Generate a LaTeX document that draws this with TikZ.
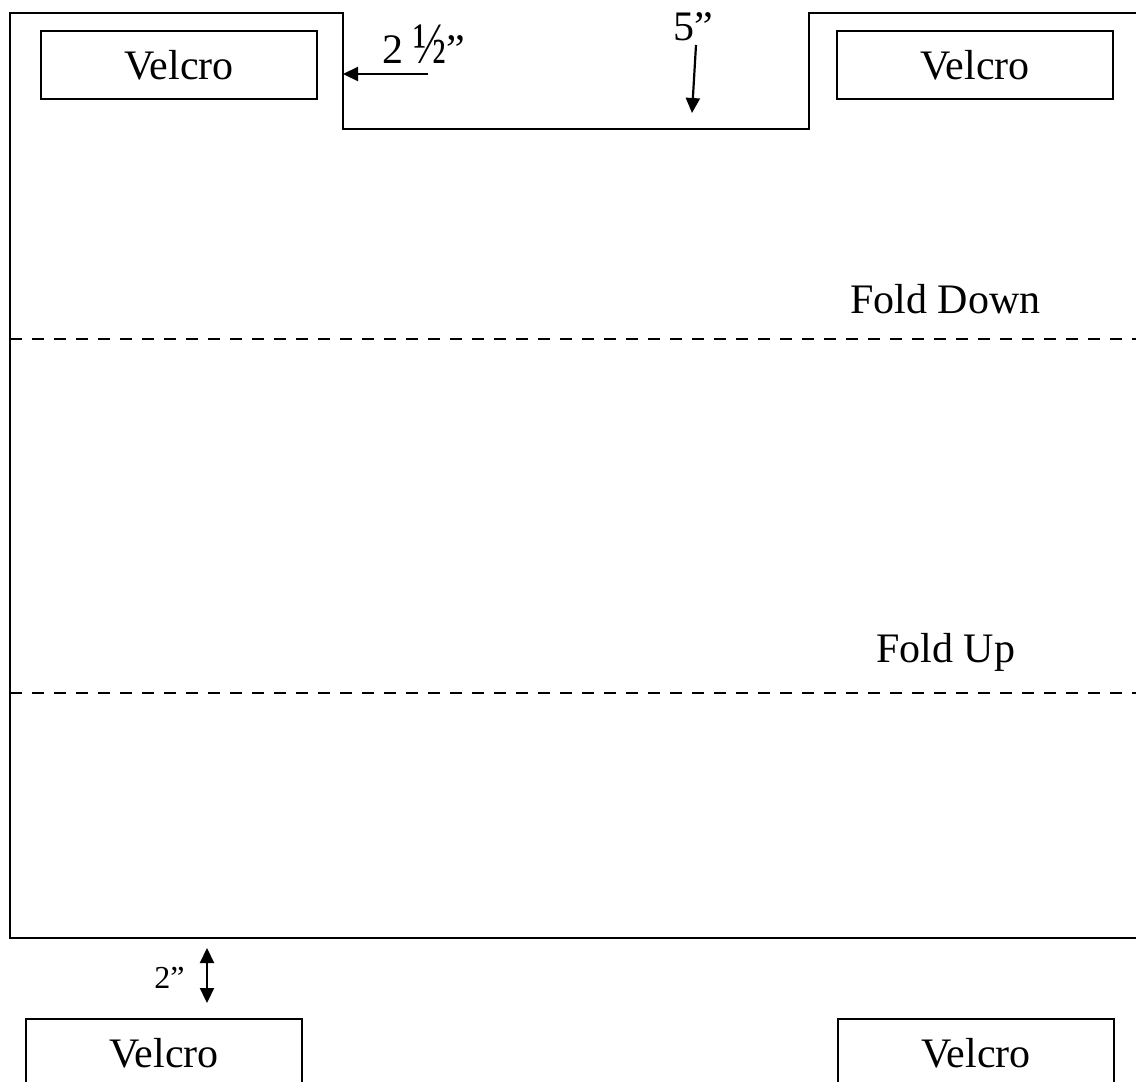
\documentclass[tikz,border=0pt]{standalone}
\usepackage{graphicx}
\usepackage{fontspec}
\setmainfont{Liberation Serif}
\usetikzlibrary{arrows.meta,positioning}

\newcommand{\halfmark}{\scalebox{1.05}[1.4]{½}}

\begin{document}
\begin{tikzpicture}[x=0.5pt,y=-0.5pt,
    patch/.style={draw, line width=0.9pt, minimum width=138pt, minimum height=34pt, inner sep=0pt, font=\fontsize{21}{25}\selectfont},
    outline/.style={line width=1.45pt},
    fold/.style={line width=1.35pt, dash pattern=on 6pt off 5pt},
    lbl/.style={anchor=base west, inner sep=0pt, font=\fontsize{21}{25}\selectfont},
    dim/.style={line width=1.1pt},
    >={Triangle[length=7.5pt,width=7pt]}]
    \clip (0,0) rectangle (1136,1082);
    % outline with the notch on top
    \coordinate (tr) at (1136,13);
    \coordinate (nrTop) at (809,13);
    \coordinate (nrBot) at (809,129);
    \coordinate (nlBot) at (343,129);
    \coordinate (nlTop) at (343,13);
    \coordinate (tl) at (10,13);
    \coordinate (bl) at (10,938);
    \coordinate (br) at (1136,938);
    \draw[outline] (tr) -- (nrTop) -- (nrBot) -- (nlBot) -- (nlTop) -- (tl) -- (bl) -- (br);
    % velcro patches
    \node[patch] (velTL) at (179,65) {Velcro};
    \node[patch] (velTR) at (975,65) {Velcro};
    \node[patch,anchor=north] (velBL) at (164,1018) {Velcro};
    \node[patch,anchor=north] (velBR) at (976,1018) {Velcro};
    % fold lines
    \coordinate (fdL) at (10,339);
    \coordinate (fdR) at (1136,339);
    \coordinate (fuL) at (10,693);
    \coordinate (fuR) at (1136,693);
    \draw[fold] (fdL) -- (fdR);
    \draw[fold] (fuL) -- (fuR);
    \node[lbl] (foldDown) at (850,313) {Fold Down};
    \node[lbl] (foldUp) at (876,662) {Fold Up};
    % measures
    \node[lbl] (halfLbl) at (382,63) {2 \halfmark”};
    \coordinate (halfTail) at (428,74);
    \draw[dim,->] (halfTail) -- (halfTail -| nlTop);
    \node[lbl] (fiveLbl) at (673,40) {5”};
    \coordinate (fiveTail) at (696,45);
    \coordinate (fiveTip) at (692,113);
    \draw[dim,->] (fiveTail) -- (fiveTip);
    \node[lbl,font=\fontsize{16}{19}\selectfont] (gapLbl) at (154,988) {2”};
    \coordinate (gapTop) at (207,948);
    \coordinate (gapBot) at (207,1003);
    \draw[dim,<->] (gapTop) -- (gapBot);
\end{tikzpicture}
\end{document}
